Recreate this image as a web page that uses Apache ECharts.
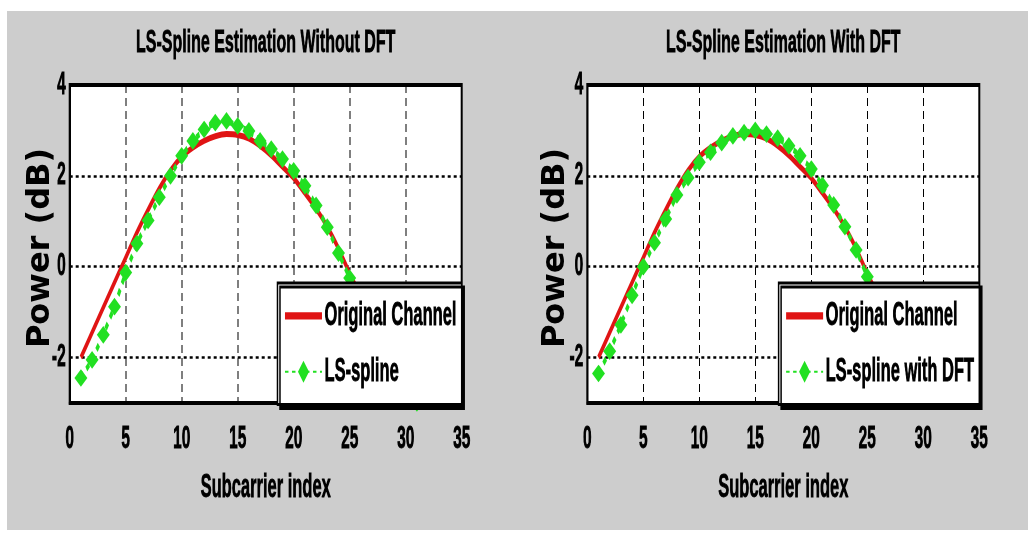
<!DOCTYPE html>
<html>
<head>
<meta charset="utf-8">
<script src="https://cdn.jsdelivr.net/npm/echarts@6/dist/echarts.min.js"></script>
<style>
  html, body { margin: 0; padding: 0; background: #fff; overflow: hidden; width: 1028px; height: 534px; }
  #main { position: absolute; left: 7px; top: 11px; width: 2042px; height: 519px; transform: scaleX(0.5); transform-origin: 0 0; }
  #over { position: absolute; left: 7px; top: 11px; width: 1021px; height: 519px; pointer-events: none; }
</style>
</head>
<body>
<div id="main"></div>
<div id="over"></div>
<script>
// subcarrier index
const subcarriers = [1,2,3,4,5,6,7,8,9,10,11,12,13,14,15,16,17,18,19,20,21,22,23,24,25,26,27,28,29,30,31]
// original channel power (dB)
const originalChannel = [-2.0,-1.45,-0.9,-0.35,0.2,0.75,1.25,1.72,2.12,2.42,2.62,2.77,2.87,2.92,2.9,2.82,2.66,2.45,2.2,1.95,1.62,1.28,0.88,0.4,-0.15,-0.65,-1.15,-1.65,-2.15,-2.6,-3.0]
// LS-spline without DFT
const lsSpline = [-2.45,-2.05,-1.5,-0.88,-0.13,0.51,1.02,1.53,2.0,2.44,2.77,3.02,3.17,3.21,3.1,2.99,2.77,2.59,2.37,2.11,1.78,1.35,0.87,0.3,-0.25,-0.8,-1.35,-1.9,-2.35,-2.7,-3.0]
// LS-spline with DFT
const lsSplineDft = [-2.35,-1.86,-1.28,-0.63,0.0,0.53,1.05,1.58,1.96,2.3,2.52,2.73,2.88,2.95,3.0,2.92,2.83,2.66,2.44,2.15,1.79,1.36,0.88,0.37,-0.22,-0.75,-1.3,-1.8,-2.25,-2.6,-2.92]

const titles = ['LS-Spline Estimation Without DFT', 'LS-Spline Estimation With DFT']
const legendNames = [['Original Channel', 'LS-spline'], ['Original Channel', 'LS-spline with DFT']]

// the picture is squeezed sideways, so the chart is drawn wide and scaled down
const S = 0.5
const W = 1021 / S
const sx = px => (px - 7) / S   // screen x -> chart x
const sy = py => py - 11        // screen y -> chart y

const RED = '#e01414'
const GREEN = '#22e022'
const FONT = 'Liberation Sans, Arial, sans-serif'
const bold = size => ({ color: '#000', fontFamily: FONT, fontWeight: 'bold', fontSize: size, textBorderColor: '#000', textBorderWidth: 0.8 })

const pairs = (xs, ys) => xs.map((x, i) => [x, ys[i]])

const plotLeft = [69.7, 587.3]
const plotRight = [461.7, 979.3]

const grids = [], xAxes = [], yAxes = [], series = [], legends = [], titleOpts = []
const estimates = [lsSpline, lsSplineDft]

for (let k = 0; k < 2; k++) {
  grids.push({
    left: sx(plotLeft[k]), top: sy(85), width: (plotRight[k] - plotLeft[k]) / S, height: 318,
    show: true, backgroundColor: '#fff', borderColor: '#000', borderWidth: 4
  })
  xAxes.push({
    gridIndex: k, type: 'value', min: 0, max: 35, interval: 5,
    axisLine: { onZero: false, lineStyle: { color: '#000', width: 4 } },
    axisTick: { show: false },
    axisLabel: Object.assign(bold(31), { margin: 21 }),
    splitLine: { show: true, lineStyle: { color: '#000', width: 2, type: [8, 5] } },
    name: 'Subcarrier index', nameLocation: 'middle', nameGap: 68,
    nameTextStyle: bold(33)
  })
  yAxes.push({
    gridIndex: k, type: 'value', min: -3, max: 4, minInterval: 2, maxInterval: 2,
    axisLine: { lineStyle: { color: '#000', width: 4 } },
    axisTick: { show: false },
    axisLabel: Object.assign(bold(31), { margin: 8, showMinLabel: false }),
    splitLine: { show: true, lineStyle: { color: '#000', width: 2.5, type: [6, 6] } }
  })
  series.push({
    type: 'line', name: legendNames[k][0], xAxisIndex: k, yAxisIndex: k,
    data: pairs(subcarriers, originalChannel), symbol: 'none', smooth: 0.2,
    lineStyle: { color: RED, width: 6 }, itemStyle: { color: RED }, z: 2
  })
  series.push({
    type: 'line', name: legendNames[k][1], xAxisIndex: k, yAxisIndex: k,
    data: pairs(subcarriers, estimates[k]), symbol: 'diamond', symbolSize: [19, 13],
    lineStyle: { color: GREEN, width: 6, type: [7, 7] },
    itemStyle: { color: GREEN, borderColor: GREEN, borderWidth: 4 }, z: 3
  })
  legends.push({
    data: [{ name: legendNames[k][0], icon: 'path://M0,0H60V6H0Z' }, legendNames[k][1]],
    orient: 'vertical',
    right: W - sx(plotRight[k]), top: sy(283),
    padding: [16, 10, 16, 14], itemGap: 22, itemWidth: 74, itemHeight: 24,
    backgroundColor: '#fff', borderColor: '#000', borderWidth: 3,
    shadowColor: '#000', shadowOffsetX: 5, shadowOffsetY: 4, shadowBlur: 0,
    textStyle: bold(33),
    selectedMode: false
  })
  titleOpts.push({
    text: titles[k], left: sx((plotLeft[k] + plotRight[k]) / 2), textAlign: 'center', top: 16, padding: 0,
    textStyle: bold(32)
  })
}

const chart = echarts.init(document.getElementById('main'))
chart.setOption({
  backgroundColor: '#cdcdcd',
  animation: false,
  title: titleOpts,
  grid: grids,
  xAxis: xAxes,
  yAxis: yAxes,
  legend: legends,
  series: series
})

// y axis names drawn unsqueezed on top
const over = echarts.init(document.getElementById('over'))
over.setOption({
  animation: false,
  graphic: [34, 549].map(x => ({
    type: 'text', x: x, y: 237, rotation: Math.PI / 2,
    style: { text: 'Power (dB)', font: 'bold 32px "DejaVu Sans"', fill: '#000', align: 'center', verticalAlign: 'middle' }
  }))
})
</script>
</body>
</html>
